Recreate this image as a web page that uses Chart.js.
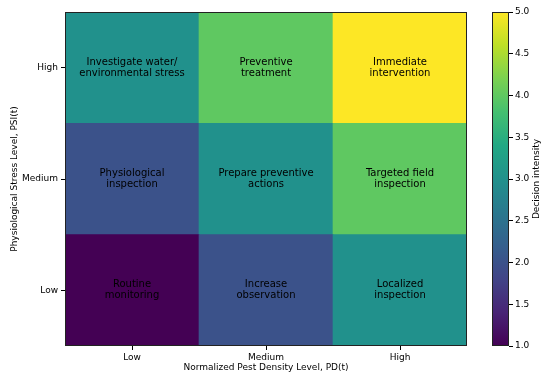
<!DOCTYPE html>
<html>
<head>
<meta charset="utf-8">
<script src="https://cdn.jsdelivr.net/npm/chart.js@4"></script>
<style>
  html, body { margin: 0; padding: 0; background: #fff; }
  #wrap { position: relative; width: 550px; height: 382px; }
  #heat { position: absolute; left: 0; top: 0; }
  #cbar { position: absolute; left: 470px; top: 0; }
</style>
</head>
<body>
<div id="wrap">
  <canvas id="heat" width="480" height="382"></canvas>
  <canvas id="cbar" width="80" height="382"></canvas>
</div>
<script>
// ─── Datos ────────────────────────────────────────
const pestLevels   = ['Low', 'Medium', 'High'];      // eje x
const stressLevels = ['Low', 'Medium', 'High'];      // eje y (abajo → arriba)

// intensidad por fila de estrés (Low, Medium, High) y columna de plaga
const intensityLow    = [1, 2, 3];
const intensityMedium = [2, 3, 4];
const intensityHigh   = [3, 4, 5];
const intensities = [intensityLow, intensityMedium, intensityHigh];

const actionsLow    = ['Routine\nmonitoring', 'Increase\nobservation', 'Localized\ninspection'];
const actionsMedium = ['Physiological\ninspection', 'Prepare preventive\nactions', 'Targeted field\ninspection'];
const actionsHigh   = ['Investigate water/\nenvironmental stress', 'Preventive\ntreatment', 'Immediate\nintervention'];
const actions = [actionsLow, actionsMedium, actionsHigh];

const cbMin = 1, cbMax = 5, cbStep = 0.5;
const cbLabel = 'Decision intensity';

// ─── Viridis ──────────────────────────────────────
const viridisStops = ['#440154', '#482475', '#414487', '#355f8d', '#2a788e',
                      '#21918c', '#22a884', '#44bf70', '#7ad151', '#bddf26', '#fde725'];

function hexToRgb(h) {
  return [parseInt(h.slice(1, 3), 16), parseInt(h.slice(3, 5), 16), parseInt(h.slice(5, 7), 16)];
}
function viridis(t) {
  t = Math.max(0, Math.min(1, t));
  const pos = t * (viridisStops.length - 1);
  const i = Math.min(Math.floor(pos), viridisStops.length - 2);
  const f = pos - i;
  const a = hexToRgb(viridisStops[i]), b = hexToRgb(viridisStops[i + 1]);
  const c = a.map((v, k) => Math.round(v + (b[k] - v) * f));
  return `rgb(${c[0]}, ${c[1]}, ${c[2]})`;
}
const colorFor = v => viridis((v - cbMin) / (cbMax - cbMin));

const FONT = "'DejaVu Sans', sans-serif";
const INK = '#000';

// ─── Plugins ──────────────────────────────────────
const marco = {
  id: 'marco',
  afterDraw(chart) {
    const { ctx, chartArea: a } = chart;
    ctx.save();
    ctx.strokeStyle = '#222';
    ctx.lineWidth = 1;
    ctx.strokeRect(Math.round(a.left) + 0.5, Math.round(a.top) + 0.5,
                   Math.round(a.right - a.left) - 1, Math.round(a.bottom - a.top) - 1);
    ctx.restore();
  }
};

const textos = {
  id: 'textos',
  afterDatasetsDraw(chart) {
    const { ctx, scales: { x, y } } = chart;
    ctx.save();
    ctx.font = `10px ${FONT}`;
    ctx.fillStyle = INK;
    ctx.textAlign = 'center';
    ctx.textBaseline = 'middle';
    const lh = 11;
    actions.forEach((row, r) => {
      row.forEach((txt, c) => {
        const cx = x.getPixelForValue(c);
        const cy = y.getPixelForValue(r + 0.5);
        const lines = txt.split('\n');
        lines.forEach((ln, i) => {
          ctx.fillText(ln, cx, cy + (i - (lines.length - 1) / 2) * lh);
        });
      });
    });
    ctx.restore();
  }
};

// título de la barra de color, girado como en matplotlib (de abajo hacia arriba)
const tituloBarra = {
  id: 'tituloBarra',
  afterDraw(chart) {
    const { ctx, chartArea: a } = chart;
    ctx.save();
    ctx.translate(67, (a.top + a.bottom) / 2);
    ctx.rotate(-Math.PI / 2);
    ctx.font = `9px ${FONT}`;
    ctx.fillStyle = INK;
    ctx.textAlign = 'center';
    ctx.textBaseline = 'middle';
    ctx.fillText(cbLabel, 0, 0);
    ctx.restore();
  }
};

// ─── Heatmap ──────────────────────────────────────
new Chart(document.getElementById('heat').getContext('2d'), {
  type: 'bar',
  data: {
    labels: pestLevels,
    datasets: stressLevels.map((s, r) => ({
      label: s,
      data: pestLevels.map(() => 1),
      backgroundColor: intensities[r].map(colorFor),
      borderWidth: 0,
      barPercentage: 1,
      categoryPercentage: 1
    }))
  },
  options: {
    responsive: false,
    animation: false,
    layout: { padding: { top: 12, right: 13, bottom: 0, left: 0 } },
    plugins: { legend: { display: false }, tooltip: { enabled: false } },
    scales: {
      x: {
        stacked: true,
        grid: { display: true, offset: false, drawOnChartArea: false, tickLength: 4, color: INK },
        border: { display: false },
        ticks: { color: INK, font: { family: FONT, size: 9 }, padding: 2, maxRotation: 0 },
        title: { display: true, text: 'Normalized Pest Density Level, PD(t)', color: INK,
                 font: { family: FONT, size: 9 }, padding: { top: 0, bottom: 9 } },
        afterFit(scale) { scale.height = 36; }
      },
      y: {
        stacked: true,
        min: 0,
        max: stressLevels.length,
        afterBuildTicks(scale) { scale.ticks = stressLevels.map((_, i) => ({ value: i + 0.5 })); },
        grid: { display: true, drawOnChartArea: false, tickLength: 4, color: INK },
        border: { display: false },
        ticks: {
          color: INK, font: { family: FONT, size: 9 }, padding: 3,
          callback: v => stressLevels[Math.round(v - 0.5)]
        },
        title: { display: true, text: 'Physiological Stress Level, PSI(t)', color: INK,
                 font: { family: FONT, size: 9 }, padding: { top: 9, bottom: 0 } },
        afterFit(scale) { scale.width = 65; }
      }
    }
  },
  plugins: [textos, marco]
});

// ─── Barra de color ───────────────────────────────
new Chart(document.getElementById('cbar').getContext('2d'), {
  type: 'bar',
  data: {
    labels: [''],
    datasets: [{
      data: [[cbMin, cbMax]],
      borderWidth: 0,
      barPercentage: 1,
      categoryPercentage: 1,
      backgroundColor(context) {
        const a = context.chart.chartArea;
        if (!a) return viridisStops[0];
        const g = context.chart.ctx.createLinearGradient(0, a.bottom, 0, a.top);
        viridisStops.forEach((c, i) => g.addColorStop(i / (viridisStops.length - 1), c));
        return g;
      }
    }]
  },
  options: {
    responsive: false,
    animation: false,
    layout: { padding: { top: 12, right: 0, bottom: 36, left: 22 } },
    plugins: { legend: { display: false }, tooltip: { enabled: false } },
    scales: {
      x: { display: false },
      y: {
        position: 'right',
        min: cbMin,
        max: cbMax,
        grid: { display: true, drawOnChartArea: false, tickLength: 4, color: INK },
        border: { display: false },
        ticks: {
          stepSize: cbStep, color: INK, font: { family: FONT, size: 9 }, padding: 2,
          callback: v => v.toFixed(1)
        },
        title: { display: false },
        afterFit(scale) { scale.width = 41; }
      }
    }
  },
  plugins: [marco, tituloBarra]
});
</script>
</body>
</html>
